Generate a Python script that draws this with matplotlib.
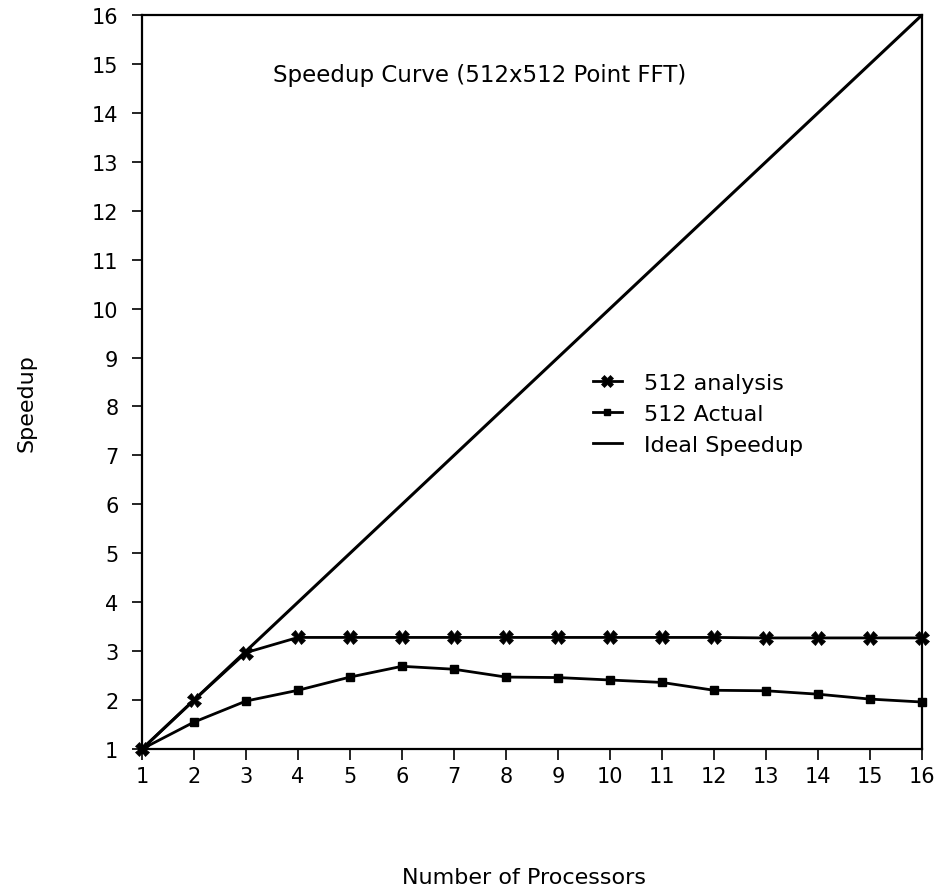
import matplotlib
matplotlib.use("Agg")
import matplotlib.pyplot as plt
from matplotlib.lines import Line2D

plt.rcParams['font.family'] = ['DejaVu Sans']

processors = list(range(1, 17))
analysis = [1.0, 2.0, 2.97, 3.28, 3.28, 3.28, 3.28, 3.28, 3.28, 3.28, 3.28, 3.28, 3.27, 3.27, 3.27, 3.27]
actual = [1.0, 1.55, 1.98, 2.2, 2.47, 2.69, 2.63, 2.47, 2.46, 2.41, 2.36, 2.2, 2.19, 2.12, 2.02, 1.96]
ideal = [1, 2, 3, 4, 5, 6, 7, 8, 9, 10, 11, 12, 13, 14, 15, 16]
x_ticks = list(range(1, 17))
y_ticks = list(range(1, 17))

W, H = 942, 895
fig = plt.figure(figsize=(W / 100, H / 100), dpi=100)
ax = fig.add_axes([142 / W, 1 - 750 / H, (922 - 142) / W, (750 - 16) / H])

ax.plot(processors, ideal, color='black', lw=2.2, zorder=2)
ax.plot(processors, analysis, color='black', lw=2.0, marker='X', markersize=10,
        markeredgewidth=0.5, zorder=3, clip_on=False)
ax.plot(processors, actual, color='black', lw=2.0, marker='s', markersize=5.5,
        zorder=3, clip_on=False)

ax.set_xlim(1, 16)
ax.set_ylim(1, 16)
ax.set_xticks(x_ticks)
ax.set_yticks(y_ticks)
ax.tick_params(axis='x', direction='out', length=8, width=1.2, labelsize=15, pad=4, colors='black')
ax.tick_params(axis='y', direction='out', length=7, width=1.2, labelsize=15, pad=10, colors='black')
for s in ax.spines.values():
    s.set_linewidth(1.6)

fig.text(273 / W, 1 - 82 / H, "Speedup Curve (512x512 Point FFT)", fontsize=16.5,
         ha='left', va='baseline')
fig.text(524 / W, 1 - 878 / H, "Number of Processors", fontsize=16, ha='center', va='center')
fig.text(27 / W, 1 - 403 / H, "Speedup", fontsize=16, ha='center', va='center', rotation=90)

handles = [
    Line2D([], [], color='black', lw=2, marker='X', markersize=9, markeredgewidth=0.5),
    Line2D([], [], color='black', lw=2, marker='s', markersize=5),
    Line2D([], [], color='black', lw=2),
]
ax.legend(handles, ["512 analysis", "512 Actual", "Ideal Speedup"], frameon=False,
          fontsize=16, loc='upper left', bbox_to_anchor=(593 / W, 1 - 374 / H),
          bbox_transform=fig.transFigure, handlelength=1.3, handletextpad=1.0,
          labelspacing=0.5, borderaxespad=0, borderpad=0)

fig.savefig("out.png", dpi=100)
